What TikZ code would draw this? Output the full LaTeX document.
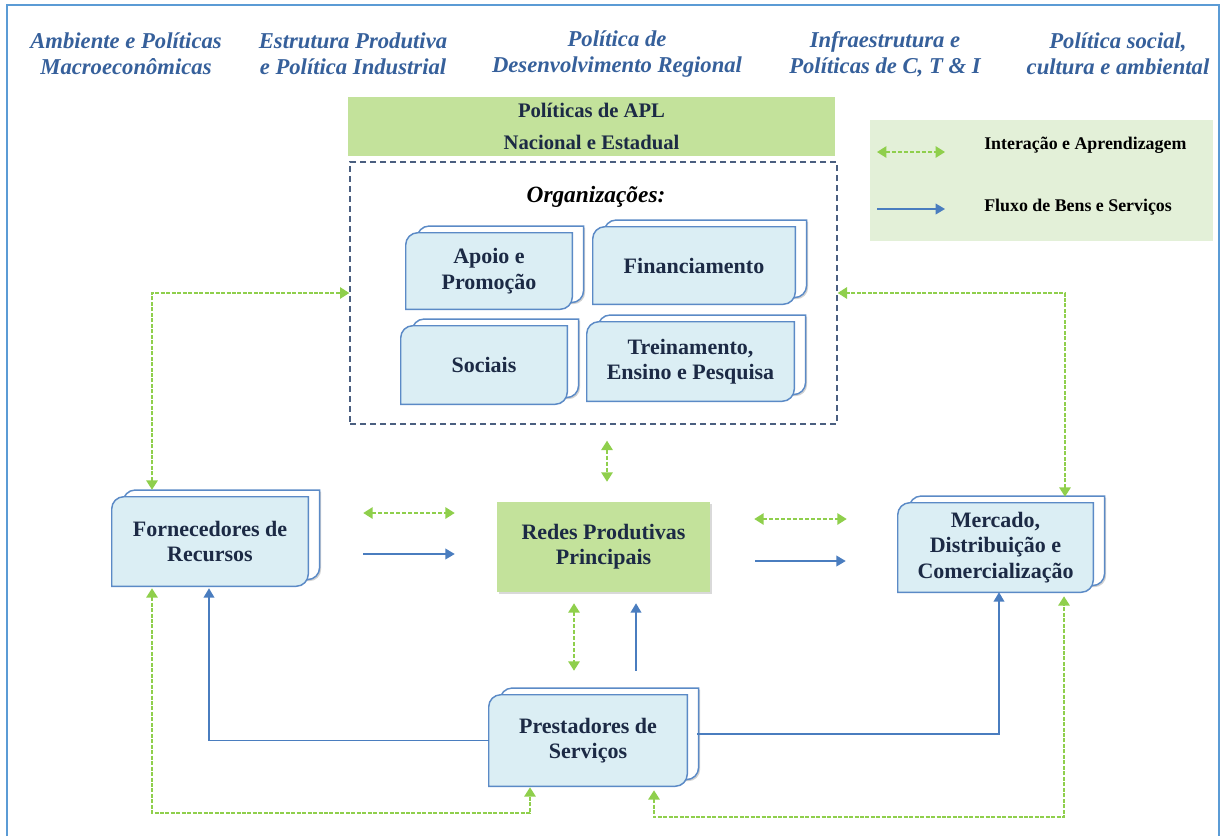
\documentclass[tikz,border=0pt]{standalone}
\usepackage{fontspec}
\setmainfont{Liberation Serif}
\usetikzlibrary{arrows.meta,calc,backgrounds,shadows}

\definecolor{frameblue}{HTML}{5B9BD5}
\definecolor{headblue}{HTML}{36609B}
\definecolor{aplgreen}{HTML}{C3E29B}
\definecolor{legendgreen}{HTML}{E3F0D8}
\definecolor{docfill}{HTML}{DBEEF4}
\definecolor{docline}{HTML}{5B8AC6}
\definecolor{navytext}{HTML}{1C2A45}
\definecolor{flowgreen}{HTML}{8FCF4C}
\definecolor{flowblue}{HTML}{4A7DBF}
\definecolor{dashgray}{HTML}{4A5F80}

% outline of a sheet: rounded top-left and bottom-right corners
\newcommand\sheetoutline[3]{%
  ([xshift=#2,yshift=#3]#1.south west)
  -- ([xshift=#2,yshift=#3-9pt]#1.north west)
  arc[start angle=180,end angle=90,radius=9pt]
  -- ([xshift=#2,yshift=#3]#1.north east)
  -- ([xshift=#2,yshift=#3+9pt]#1.south east)
  arc[start angle=0,end angle=-90,radius=9pt]
  -- cycle}

% stacked document box: name, cx, cy, width, height (px), text
\newcommand\docbox[6]{%
  \node[docnode, minimum width=#4*0.75pt, minimum height=#5*0.75pt] (#1) at (#2,#3) {#6};
  \begin{pgfonlayer}{background}
    \path[docsheet, fill=white, softshadow] \sheetoutline{#1}{8.5pt}{5pt};
    \path[docsheet, fill=docfill] \sheetoutline{#1}{0pt}{0pt};
  \end{pgfonlayer}}

\tikzset{
  header/.style={align=center, text=headblue, inner sep=0,
    font=\fontsize{17}{19.5}\selectfont\bfseries\itshape},
  docnode/.style={align=center, text=navytext, inner sep=0,
    font=\fontsize{16.5}{19}\selectfont\bfseries},
  docsheet/.style={draw=docline, line width=1.1pt},
  softshadow/.style={drop shadow={shadow xshift=1.2pt, shadow yshift=-1.2pt, opacity=0.18, fill=black}},
  learn/.style={draw=flowgreen, line width=1.2pt, dash pattern=on 3pt off 1.5pt,
    {Triangle[length=7pt,width=8.5pt]}-{Triangle[length=7pt,width=8.5pt]}},
  learnlong/.style={learn, line width=1.4pt, dash pattern=on 3pt off 1.1pt},
  flow/.style={draw=flowblue, line width=1.1pt, -{Triangle[length=7pt,width=8pt]}},
  legendtext/.style={anchor=west, inner sep=0, font=\fontsize{13.4}{15}\selectfont\bfseries}
}

\begin{document}
\begin{tikzpicture}[x=0.75pt, y=-0.75pt]
\useasboundingbox (0,0) rectangle (1227,836);

% outer frame (open at the bottom)
\draw[frameblue, line width=2.2pt] (7,836) -- (7,5) -- (1219,5) -- (1219,836);

% policy headings
\node[header] (h1) at (126,54) {Ambiente e Políticas\\Macroeconômicas};
\node[header] (h2) at (353,54) {Estrutura Produtiva\\e Política Industrial};
\node[header] (h3) at (617,54) {Política de\\Desenvolvimento Regional};
\node[header] (h4) at (885,54) {Infraestrutura e\\Políticas de C, T \& I};
\node[header] (h5) at (1118,54) {Política social,\\cultura e ambiental};

% APL policies bar
\node[fill=aplgreen, minimum width=487*0.75pt, minimum height=59*0.75pt, inner sep=0,
  align=center, text=navytext, font=\fontsize{15.5}{24.5}\selectfont\bfseries]
  (apl) at (591.5,126.5) {Políticas de APL\\Nacional e Estadual};

% organisations
\node[draw=dashgray, dash pattern=on 4.5pt off 3pt, line width=1pt,
  minimum width=487*0.75pt, minimum height=262*0.75pt, inner sep=0] (orgs) at (593.5,293) {};
\node[inner sep=0, font=\fontsize{17.5}{20}\selectfont\bfseries\itshape] (orgtitle) at (596,197) {Organizações:};

\docbox{apoio}{489}{271}{166}{76}{Apoio e\\Promoção}
\docbox{fin}{694}{265.5}{202}{77}{Financiamento}
\docbox{soc}{484}{365}{166}{78}{Sociais}
\docbox{trein}{690.5}{361.5}{207}{79}{Treinamento,\\Ensino e Pesquisa}

% legend
\node[fill=legendgreen, minimum width=343*0.75pt, minimum height=121*0.75pt, inner sep=0] (legend) at (1041.5,180.5) {};
\coordinate (lgA1) at (877,152);
\coordinate (lgA2) at (945,152);
\coordinate (lgB1) at (877,209);
\coordinate (lgB2) at (945,209);
\draw[learn] (lgA1) -- (lgA2);
\draw[flow] (lgB1) -- (lgB2);
\node[legendtext] (lgt1) at (984,145) {Interação e Aprendizagem};
\node[legendtext] (lgt2) at (984,207) {Fluxo de Bens e Serviços};

% main actors
\docbox{forn}{210}{541.5}{196}{89}{Fornecedores de\\Recursos}
\docbox{merc}{995.5}{547.5}{195}{89}{Mercado,\\Distribuição e\\Comercialização}
\docbox{prest}{588}{740.5}{198}{91}{Prestadores de\\Serviços}
\node[docnode, fill=aplgreen, minimum width=213*0.75pt, minimum height=90*0.75pt,
  drop shadow={shadow xshift=1.5pt, shadow yshift=-1.5pt, opacity=0.15, fill=black}]
  (redes) at (603.5,547) {Redes Produtivas\\Principais};

% interaction and learning
\draw[learn] ($(forn.east)+(55,-28.5)$) -- ($(redes.west)+(-42,-34)$);
\draw[learn] ($(redes.east)+(44,-28)$) -- ($(merc.west)+(-51,-28.5)$);
\draw[learn] ($(orgs.south)+(13.5,16)$) -- ($(redes.north)+(3.5,-20)$);
\draw[learn] ($(redes.south)+(-29.5,11)$) -- ($(prest.north)+(-14,-24)$);
\draw[learnlong] ($(forn.north)+(-58,-7)$) |- (orgs.west);
\draw[learnlong] ($(merc.north)+(69.5,-6)$) |- (orgs.east);
\draw[learnlong] ($(forn.south)+(-58,2)$) |- ($(prest.south)+(-58,27)$) -- ($(prest.south)+(-58,1)$);
\draw[learnlong] ($(prest.south)+(66,4)$) |- ($(merc.south)+(68.5,225)$) -- ($(merc.south)+(68.5,4)$);

% flow of goods and services
\draw[flow] ($(forn.east)+(55,12.5)$) -- ($(redes.west)+(-42,7)$);
\draw[flow] ($(redes.east)+(45,14)$) -- ($(merc.west)+(-52,13.5)$);
\draw[flow] ($(prest.north)+(48,-24)$) -- ($(redes.south)+(32.5,11)$);
\draw[flow] (prest.west) -| ($(forn.south)+(-1,2)$);
\draw[flow] ($(prest.east)+(10,-6.5)$) -| ($(merc.south)+(3.5,0)$);
\end{tikzpicture}
\end{document}
